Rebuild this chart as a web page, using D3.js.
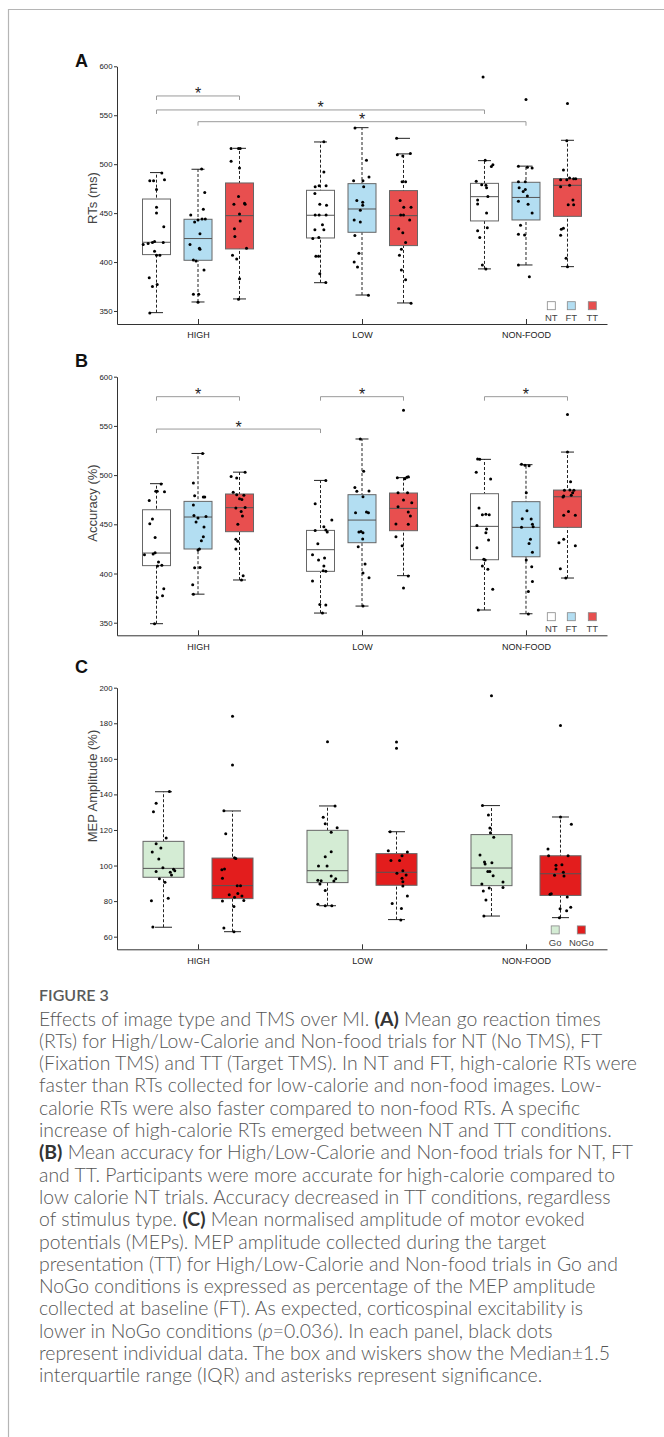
<!DOCTYPE html>
<html><head><meta charset="utf-8">
<script src="https://cdn.jsdelivr.net/npm/d3@7"></script>
<style>body{margin:0;background:#fff}svg{display:block}</style>
</head><body>
<svg id="fig" width="664" height="1437"></svg>
<script>
// ---------------- DATA ----------------
const categories = ["HIGH", "LOW", "NON-FOOD"];
const conditionsAB = ["NT", "FT", "TT"];
const conditionsC = ["Go", "NoGo"];
const ticksAB = [350, 400, 450, 500, 550, 600];
const ticksC = [60, 80, 100, 120, 140, 160, 180, 200];

// box stats: [category, condition, whiskerLow, q1, median, q3, whiskerHigh]
const boxesA = [
  ["HIGH", "NT", 348.3, 407.6, 420.2, 464.4, 491.4],
  ["HIGH", "FT", 359.2, 401.8, 424.0, 443.7, 494.8],
  ["HIGH", "TT", 362.3, 413.4, 447.4, 480.8, 516.2],
  ["LOW", "NT", 378.9, 424.6, 447.8, 473.3, 522.7],
  ["LOW", "FT", 366.3, 430.4, 454.2, 480.1, 537.3],
  ["LOW", "TT", 358.2, 416.8, 447.4, 473.0, 510.5],
  ["NON-FOOD", "NT", 393.0, 442.0, 466.8, 480.4, 503.6],
  ["NON-FOOD", "FT", 397.0, 443.0, 466.0, 481.5, 498.0],
  ["NON-FOOD", "TT", 395.3, 446.7, 478.4, 485.2, 524.4]
];
const extraCapsA = [["LOW", "TT", 526.4]];
// individual points: [category, condition, [[value, jitter(-1..1 of box half width)], ...]]
const pointsA = [
  ["HIGH", "NT", [[491,0.38],[483,-0.48],[483,-0.21],[484,0.57],[474,0],[456,0],[450,0],[436,0.52],[418,-0.95],[419,-0.6],[420,-0.29],[421,-0.14],[420,0.48],[411,-0.14],[407,0.24],[407,0],[384,-0.52],[375,-0.29],[377,0.05],[348,-0.48]]],
  ["HIGH", "FT", [[495,0.26],[471,0.48],[448,-0.52],[441,-0.24],[443,0],[444,0.29],[444,0.52],[454,0.38],[429,0.14],[418,-0.57],[414,0.1],[413,0.14],[402,-0.33],[401,-0.14],[392,0.43],[367,-0.33],[367,0.05],[359,0]]],
  ["HIGH", "TT", [[516,-0.6],[516,-0.07],[516,0.05],[503,-0.6],[496,0],[467,-0.07],[460,0.36],[459,0.4],[459,-0.4],[449,0],[442,0.05],[434,-0.36],[426,-0.33],[414,0.5],[407,-0.5],[403,-0.2],[383,0],[362,-0.07]]],
  ["LOW", "NT", [[523,0.24],[492,0.24],[477,-0.38],[478,-0.1],[478,0.4],[470,-0.4],[459,-0.05],[458,0.43],[448,-0.38],[448,-0.1],[448,0.4],[438,0.14],[433,-0.4],[433,0.24],[424,-0.55],[425,-0.12],[406,-0.33],[406,-0.14],[388,-0.05],[379,0.38]]],
  ["LOW", "FT", [[537,-0.5],[504,0.32],[487,0.5],[483,-0.6],[483,0.07],[477,0.12],[463,-0.37],[461,0.05],[458,0.05],[453,-0.12],[443,-0.56],[441,-0.12],[427,-0.51],[409,-0.22],[400,-0.56],[395,-0.32],[366,0.46]]],
  ["LOW", "TT", [[526.4,-0.49],[509.7,-0.44],[508.4,-0.05],[511,0.49],[482,-0.1],[482,0.15],[463,-0.24],[456,0.02],[456,0.54],[448,-0.2],[448,0],[443,0.44],[434,-0.34],[430,-0.05],[420,0.15],[413,-0.15],[407,-0.29],[392,-0.15],[382,0.15],[358,0.54]]],
  ["NON-FOOD", "NT", [[589,-0.1],[504,0.05],[497.5,0.49],[499.5,0.6],[482.5,-0.59],[479,-0.2],[478.4,0.1],[476,0.15],[467,0.24],[463.4,-0.49],[459.4,-0.49],[450,0.15],[432,-0.49],[425,-0.34],[435,0.2],[397,-0.15],[393,0.1]]],
  ["NON-FOOD", "FT", [[566,0],[498,-0.54],[496.8,0.1],[496,0.44],[482,-0.54],[482,-0.05],[476,-0.49],[472,-0.2],[474,-0.05],[467.5,0.1],[462,-0.54],[459,0.15],[450,0.44],[437.5,-0.39],[428.3,-0.54],[427.7,-0.1],[397,-0.54],[385,0.24]]],
  ["NON-FOOD", "TT", [[562,0],[524,-0.05],[494,-0.29],[484,-0.49],[484,-0.05],[486,0.15],[485,0.44],[485,0.59],[477,-0.49],[478.4,0.15],[463.4,0.39],[458.6,0.05],[458.6,0.44],[433.5,-0.44],[434.5,-0.29],[427.3,-0.49],[404,-0.1],[395.3,0]]]
];
// significance brackets: [cat1, cond1, cat2, cond2, value]
const bracketsA = [
  ["HIGH", "NT", "HIGH", "TT", 569.7],
  ["HIGH", "NT", "NON-FOOD", "NT", 555.4],
  ["HIGH", "FT", "NON-FOOD", "FT", 543.4]
];

const boxesB = [
  ["HIGH", "NT", 349.0, 408.0, 420.8, 464.8, 491.3],
  ["HIGH", "FT", 379.0, 424.9, 457.4, 473.3, 522.0],
  ["HIGH", "TT", 393.4, 442.5, 466.9, 480.8, 503.0],
  ["LOW", "NT", 359.8, 402.2, 424.2, 443.8, 494.6],
  ["LOW", "FT", 366.9, 431.3, 454.3, 480.1, 536.7],
  ["LOW", "TT", 397.8, 443.5, 466.2, 481.8, 497.4],
  ["NON-FOOD", "NT", 362.9, 414.0, 447.9, 481.1, 516.0],
  ["NON-FOOD", "FT", 359.1, 417.0, 446.9, 473.0, 510.6],
  ["NON-FOOD", "TT", 395.4, 446.9, 478.0, 484.8, 523.4]
];
const pointsB = [
  ["HIGH", "NT", [[491,0.33],[483.5,-0.05],[483.5,0.05],[483,0.57],[474.3,-0.52],[455.4,-0.29],[450.6,-0.48],[436.7,-0.1],[419,-0.86],[419.8,-0.24],[421,-0.1],[411.7,0.14],[408.3,0.38],[407.6,0.07],[384.6,0.52],[375.4,0.05],[377.4,0.43],[349,-0.14]]],
  ["HIGH", "FT", [[522,0.33],[492,-0.33],[479,-0.24],[477.7,0.38],[477.7,0.48],[469.6,-0.33],[459,-0.29],[458,0.57],[456.4,0],[452.3,-0.14],[447.2,0.43],[433.3,0.24],[437.4,0.38],[425,0.1],[423.8,0],[405.9,-0.24],[406.2,0.14],[388.6,-0.38],[379,-0.33]]],
  ["HIGH", "TT", [[503,0.4],[498.7,-0.6],[497,-0.2],[482.5,-0.45],[480,-0.2],[479.4,0.31],[476,0],[475.3,0.17],[467.2,0.4],[466.5,-0.26],[463.1,0.12],[458.4,0.21],[450,-0.12],[434.7,-0.26],[432.7,-0.12],[425,-0.26],[397.8,0.26],[393.4,0.14]]],
  ["LOW", "NT", [[494.6,0.38],[471,-0.38],[443.8,-0.38],[447.6,0.24],[444.2,0.38],[442.1,0.48],[454.3,0.81],[430.3,-0.19],[419.1,-0.57],[413.7,-0.14],[415.7,0.29],[407.6,0.24],[402.8,0.19],[402.2,0.38],[392.3,-0.57],[368.6,-0.05],[367.9,0.38],[359.8,0.14]]],
  ["LOW", "FT", [[536.7,-0.12],[503.8,0.12],[487.5,-0.51],[483.8,0.5],[483.5,-0.37],[478,0.07],[462.5,0.32],[461.8,0.46],[461.8,-0.46],[442.8,-0.07],[441.5,0.07],[442.1,-0.22],[435,0.05],[427.2,-0.27],[409.6,0.22],[400.5,0.07],[395.7,0.5],[367,0.07]]],
  ["LOW", "TT", [[566,0],[497.4,-0.44],[496.3,0.1],[497.7,0.24],[498.4,0.34],[482.1,-0.39],[482.1,0.29],[474.7,0],[472,0.59],[467.9,-0.39],[462.5,0.34],[458.4,0.49],[450.3,-0.54],[450,0.34],[437.4,-0.54],[428.3,-0.1],[397.4,0.34],[385.2,0]]],
  ["NON-FOOD", "NT", [[516.3,-0.49],[516,-0.34],[502.8,-0.59],[496,0.44],[466.5,-0.39],[459.8,-0.15],[460.1,0.1],[459.8,0.34],[448.9,-0.54],[445.2,0.15],[441.5,0.1],[434,0.29],[426.2,-0.54],[414.4,-0.05],[413.7,0.05],[407.6,-0.15],[404.2,0.24],[383.9,0.59],[362.9,-0.44]]],
  ["NON-FOOD", "FT", [[511,-0.32],[510,-0.07],[509.6,0.22],[482.1,0.02],[463.8,0.07],[455.7,-0.27],[455.4,0.37],[450,0.46],[446.9,-0.32],[447.6,0.51],[434.7,0.32],[430.6,0.22],[421.5,0.46],[413.7,0.02],[406.9,0.41],[392,0.46],[381.8,0.17],[358.8,0.17]]],
  ["NON-FOOD", "TT", [[561.7,0],[523.4,0],[493.3,0.22],[484.5,-0.22],[484.8,0.17],[482.1,0.37],[484.5,0.46],[477.7,-0.32],[478.7,-0.27],[479.4,0.27],[463.1,0.07],[459.1,-0.27],[459.1,0.56],[431.3,-0.61],[434.7,-0.27],[428.3,0.56],[404.9,-0.51],[395.4,-0.12]]]
];
const bracketsB = [
  ["HIGH", "NT", "HIGH", "TT", 579.7],
  ["HIGH", "NT", "LOW", "NT", 546.8],
  ["LOW", "NT", "LOW", "TT", 579.7],
  ["NON-FOOD", "NT", "NON-FOOD", "TT", 579.7]
];

const boxesC = [
  ["HIGH", "Go", 65.3, 93.4, 98.4, 113.6, 141.5],
  ["HIGH", "NoGo", 62.8, 81.4, 88.7, 104.2, 130.7],
  ["LOW", "Go", 77.4, 90.4, 97.1, 119.8, 133.5],
  ["LOW", "NoGo", 69.6, 88.9, 96.2, 106.7, 119.0],
  ["NON-FOOD", "Go", 71.6, 88.7, 98.6, 117.4, 133.7],
  ["NON-FOOD", "NoGo", 70.7, 83.2, 95.4, 105.5, 127.3]
];
const pointsC = [
  ["HIGH", "Go", [[141.7,0.29],[135,-0.36],[130.3,-0.49],[115.5,0.13],[112.3,-0.36],[109.9,-0.13],[107.6,-0.55],[103.7,-0.23],[98.8,-0.03],[97.9,0.49],[97.1,0.55],[96.7,-0.36],[96.2,0.33],[94.7,0.39],[92.6,-0.2],[90.6,0.07],[80.2,-0.59],[81.6,0.23],[65.4,-0.52]]],
  ["HIGH", "NoGo", [[183.9,0],[156.5,0],[130.8,-0.42],[117.9,-0.33],[104.4,0.1],[103.9,0.16],[98,-0.39],[97.7,-0.52],[92.8,-0.49],[88.7,0.23],[88.7,0.39],[83.6,-0.16],[84.3,0.26],[82.9,0.46],[82.1,0.1],[80.4,0.55],[80.1,-0.49],[76.9,0.07],[64.9,-0.42],[62.8,0.07]]],
  ["LOW", "Go", [[169.6,0],[133.5,0.37],[127.1,-0.21],[123.5,-0.11],[121.3,0.47],[118.7,0.18],[107.8,0.18],[105,-0.11],[99.7,-0.44],[99.7,-0.02],[94.1,0.18],[92.6,0.4],[91.7,-0.47],[91.5,-0.31],[91.3,0.31],[89.6,-0.37],[85.9,-0.11],[78.2,-0.47],[77.4,-0.11],[77.4,0.21]]],
  ["LOW", "NoGo", [[169.5,0],[165.9,0],[119,-0.31],[108.3,-0.4],[107.6,0.53],[105.5,0.27],[102.9,-0.27],[102.9,0.15],[97.1,0.31],[95.6,0.02],[94.7,0.47],[92.8,0.27],[90.9,0.31],[88.5,0.31],[82.9,0.53],[78.6,-0.21],[75.9,0.24],[69.4,0.21]]],
  ["NON-FOOD", "Go", [[195.5,0],[133.7,-0.44],[128.4,-0.15],[121.1,-0.08],[118.5,-0.05],[115.9,0.11],[105.9,-0.56],[102,-0.34],[100.9,-0.31],[101.6,0.02],[96.7,-0.18],[96.7,-0.08],[94.3,0.08],[89.6,-0.47],[90.7,0.56],[87.7,0.56],[87.4,-0.11],[85.7,-0.4],[80.6,-0.27],[71.6,-0.37]]],
  ["NON-FOOD", "NoGo", [[178.8,0],[127.3,0],[123.2,0.53],[109.3,-0.61],[105.5,-0.58],[105.5,0.37],[100.1,-0.22],[100.5,0.07],[98,-0.22],[96.2,0.14],[94.5,-0.29],[94.1,0.17],[84.2,-0.45],[83.8,-0.51],[82.3,0.33],[75.7,-0.02],[76.5,0.5],[74.6,0.3],[70.7,-0.05]]]
];

const captionTitle = "FIGURE 3";
// caption lines: segments [text, style] with style n=normal, b=bold, i=italic
const captionLines = [
  [["Effects of image type and TMS over MI. ", "n"], ["(A)", "b"], [" Mean go reaction times", "n"]],
  [["(RTs) for High/Low-Calorie and Non-food trials for NT (No TMS), FT", "n"]],
  [["(Fixation TMS) and TT (Target TMS). In NT and FT, high-calorie RTs were", "n"]],
  [["faster than RTs collected for low-calorie and non-food images. Low-", "n"]],
  [["calorie RTs were also faster compared to non-food RTs. A specific", "n"]],
  [["increase of high-calorie RTs emerged between NT and TT conditions.", "n"]],
  [["(B)", "b"], [" Mean accuracy for High/Low-Calorie and Non-food trials for NT, FT", "n"]],
  [["and TT. Participants were more accurate for high-calorie compared to", "n"]],
  [["low calorie NT trials. Accuracy decreased in TT conditions, regardless", "n"]],
  [["of stimulus type. ", "n"], ["(C)", "b"], [" Mean normalised amplitude of motor evoked", "n"]],
  [["potentials (MEPs). MEP amplitude collected during the target", "n"]],
  [["presentation (TT) for High/Low-Calorie and Non-food trials in Go and", "n"]],
  [["NoGo conditions is expressed as percentage of the MEP amplitude", "n"]],
  [["collected at baseline (FT). As expected, corticospinal excitability is", "n"]],
  [["lower in NoGo conditions (", "n"], ["p", "i"], ["=0.036). In each panel, black dots", "n"]],
  [["represent individual data. The box and wiskers show the Median\u00B11.5", "n"]],
  [["interquartile range (IQR) and asterisks represent significance.", "n"]]
];

// ---------------- LAYOUT / STYLE ----------------
const FONT = "'Liberation Sans', Arial, Helvetica, sans-serif";
const svg = d3.select("#fig");

// frame
svg.append("path").attr("d", "M8.5,1437 V9.5 H664").attr("fill", "none")
  .attr("stroke", "#b5b5b5").attr("stroke-width", 1.2);

const xCat = d3.scalePoint().domain(categories).range([117, 607]).padding(0.494);

const panels = [
  { letter: "A", letterY: 67, domain: [336.7, 600], range: [324, 66.3], ticks: ticksAB,
    label: "RTs (ms)", labelY: 198, conds: conditionsAB, subRange: [-41.5, 41.5], boxW: 28, capW: 13,
    colors: ["#ffffff", "#b3def2", "#e84f4f"], boxes: boxesA, points: pointsA, brackets: bracketsA,
    extraCaps: extraCapsA, legendX: [551.3, 571.3, 592.3], legendY: 305.7, legendTextY: 320.7 },
  { letter: "B", letterY: 367, domain: [337.2, 600], range: [635.3, 376.7], ticks: ticksAB,
    label: "Accuracy (%)", labelY: 503, conds: conditionsAB, subRange: [-41.5, 41.5], boxW: 28, capW: 13,
    colors: ["#ffffff", "#b3def2", "#e84f4f"], boxes: boxesB, points: pointsB, brackets: bracketsB,
    extraCaps: [], legendX: [551.3, 571.3, 592.3], legendY: 616.7, legendTextY: 631.7 },
  { letter: "C", letterY: 673, domain: [52.9, 200], range: [949.3, 687.7], ticks: ticksC,
    label: "MEP Amplitude (%)", labelY: 786, conds: conditionsC, subRange: [-34.5, 34.5], boxW: 41, capW: 17,
    colors: ["#d4ecd4", "#e31d1d"], boxes: boxesC, points: pointsC, brackets: [],
    extraCaps: [], legendX: [555.2, 581.3], legendY: 929.9, legendTextY: 946 }
];

panels.forEach(cfg => {
  const g = svg.append("g");
  const y = d3.scaleLinear().domain(cfg.domain).range(cfg.range);
  const sub = d3.scalePoint().domain(cfg.conds).range(cfg.subRange);
  const fill = d3.scaleOrdinal().domain(cfg.conds).range(cfg.colors);
  const cx = (cat, cond) => xCat(cat) + sub(cond);

  // y axis
  const ya = g.append("g").attr("transform", "translate(117,0)")
    .call(d3.axisLeft(y).tickValues(cfg.ticks).tickSize(3).tickSizeOuter(0).tickPadding(1.5));
  ya.attr("font-family", FONT).attr("font-size", 7.8);
  ya.selectAll("path,line").attr("stroke", "#333").attr("stroke-width", 1);
  ya.selectAll("text").attr("fill", "#222");

  // x axis
  const xa = g.append("g").attr("transform", `translate(0,${cfg.range[0]})`)
    .call(d3.axisBottom(xCat).tickSizeInner(-5).tickSizeOuter(0).tickPadding(8));
  xa.attr("font-family", FONT).attr("font-size", 9);
  xa.selectAll("path,line").attr("stroke", "#333").attr("stroke-width", 1);
  xa.selectAll("text").attr("fill", "#222");

  // y label
  g.append("text").attr("transform", `translate(92,${cfg.labelY}) rotate(-90)`)
    .attr("text-anchor", "middle").attr("dy", "0.35em")
    .attr("font-family", FONT).attr("font-size", 13).attr("fill", "#444").text(cfg.label);

  // panel letter
  g.append("text").attr("x", 75).attr("y", cfg.letterY).attr("font-family", FONT)
    .attr("font-size", 18).attr("font-weight", "bold").attr("fill", "#111").text(cfg.letter);

  // boxes
  cfg.boxes.forEach(b => {
    const [cat, cond, lo, q1, med, q3, hi] = b;
    const c = cx(cat, cond), hw = cfg.boxW / 2, cw = cfg.capW / 2;
    g.append("line").attr("x1", c).attr("x2", c).attr("y1", y(lo)).attr("y2", y(hi))
      .attr("stroke", "#222").attr("stroke-width", 1).attr("stroke-dasharray", "3,2");
    [lo, hi].forEach(v => g.append("line").attr("x1", c - cw).attr("x2", c + cw)
      .attr("y1", y(v)).attr("y2", y(v)).attr("stroke", "#222").attr("stroke-width", 1));
    g.append("rect").attr("x", c - hw).attr("y", y(q3)).attr("width", cfg.boxW)
      .attr("height", y(q1) - y(q3)).attr("fill", fill(cond)).attr("stroke", "#666").attr("stroke-width", 1);
    g.append("line").attr("x1", c - hw).attr("x2", c + hw).attr("y1", y(med)).attr("y2", y(med))
      .attr("stroke", "#555").attr("stroke-width", 1);
  });
  cfg.extraCaps.forEach(([cat, cond, v]) => {
    const c = cx(cat, cond), cw = cfg.capW / 2;
    g.append("line").attr("x1", c - cw).attr("x2", c + cw).attr("y1", y(v)).attr("y2", y(v))
      .attr("stroke", "#222").attr("stroke-width", 1);
  });

  // points
  cfg.points.forEach(([cat, cond, pts]) => {
    const c = cx(cat, cond), hw = cfg.boxW / 2;
    g.selectAll(null).data(pts).enter().append("circle")
      .attr("cx", d => c + d[1] * hw).attr("cy", d => y(d[0])).attr("r", 1.5).attr("fill", "#000");
  });

  // brackets
  cfg.brackets.forEach(([c1, k1, c2, k2, v]) => {
    const x1 = cx(c1, k1), x2 = cx(c2, k2), yy = y(v);
    g.append("path").attr("d", `M${x1},${yy + 4}V${yy}H${x2}V${yy + 4}`)
      .attr("fill", "none").attr("stroke", "#9a9a9a").attr("stroke-width", 1);
    g.append("text").attr("x", (x1 + x2) / 2).attr("y", yy + 3.5).attr("text-anchor", "middle")
      .attr("font-family", FONT).attr("font-size", 16).attr("fill", "#222").text("*");
  });

  // legend
  cfg.conds.forEach((cond, i) => {
    const lx = cfg.legendX[i];
    g.append("rect").attr("x", lx - 4).attr("y", cfg.legendY - 4).attr("width", 8).attr("height", 8)
      .attr("fill", fill(cond)).attr("stroke", "#888").attr("stroke-width", 0.8);
    g.append("text").attr("x", lx).attr("y", cfg.legendTextY).attr("text-anchor", "middle")
      .attr("font-family", FONT).attr("font-size", 9.5).attr("fill", "#444").text(cond);
  });
});

// ---------------- CAPTION ----------------
const CAP = "Lato, 'Open Sans', sans-serif";
svg.append("text").attr("x", 39).attr("y", 1001).attr("font-family", CAP)
  .attr("font-size", 16).attr("font-weight", 600).attr("fill", "#5a5a5a").text(captionTitle);
const capG = svg.append("g");
captionLines.forEach((line, i) => {
  const t = capG.append("text").attr("x", 39).attr("y", 1025.5 + i * 22.3)
    .attr("font-family", CAP).attr("font-size", 19.4).attr("font-weight", 300).attr("fill", "#555");
  line.forEach(([txt, st]) => {
    const ts = t.append("tspan").text(txt);
    if (st === "b") ts.attr("font-weight", 700).attr("fill", "#333");
    if (st === "i") ts.attr("font-style", "italic");
  });
});
</script>
</body></html>
